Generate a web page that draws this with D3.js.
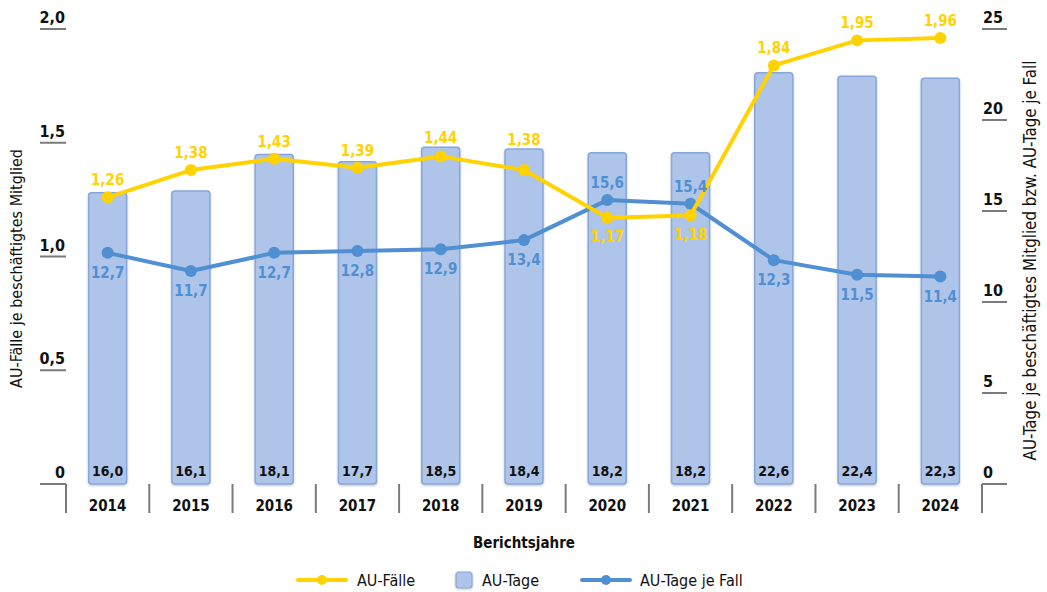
<!DOCTYPE html>
<html>
<head>
<meta charset="utf-8">
<script src="https://cdn.jsdelivr.net/npm/d3@7/dist/d3.min.js"></script>
<style>
  html, body { margin: 0; padding: 0; background: #fff; }
  svg { display: block; font-family: "DejaVu Sans Condensed", "Liberation Sans Narrow", sans-serif; }
</style>
</head>
<body>
<svg id="chart" width="1047" height="592"></svg>
<script>
const years = ["2014","2015","2016","2017","2018","2019","2020","2021","2022","2023","2024"];
const auFaelle = [1.26, 1.38, 1.43, 1.39, 1.44, 1.38, 1.17, 1.18, 1.84, 1.95, 1.96];
const auTage = [16.0, 16.1, 18.1, 17.7, 18.5, 18.4, 18.2, 18.2, 22.6, 22.4, 22.3];
const auTageJeFall = [12.7, 11.7, 12.7, 12.8, 12.9, 13.4, 15.6, 15.4, 12.3, 11.5, 11.4];
const leftTicks = [0, 0.5, 1.0, 1.5, 2.0];
const rightTicks = [0, 5, 10, 15, 20, 25];
// labels drawn under the point (Fälle) / above the point (Tage je Fall)
const faelleBelow = ["2020", "2021"];
const proFallAbove = ["2020", "2021"];

const YELLOW = "#ffd200";
const BLUE = "#4f8fd2";
const BAR_FILL = "#aec4e8";
const BAR_STROKE = "#86a7dc";
const AXIS = "#7b7b7b";

const fmt = (v, d) => v.toFixed(d).replace(".", ",");

const svg = d3.select("#chart");
const plotL = 66, plotR = 982, plotT = 29, plotB = 484;

const x = d3.scaleBand().domain(years).range([plotL, plotR]).paddingInner(0).paddingOuter(0);
const yL = d3.scaleLinear().domain([0, 2]).range([plotB, plotT]);
const yR = d3.scaleLinear().domain([0, 25]).range([plotB, plotT]);

const defs = svg.append("defs");
const f = defs.append("filter").attr("id", "soft").attr("x", "-20%").attr("y", "-20%").attr("width", "140%").attr("height", "140%");
f.append("feGaussianBlur").attr("in", "SourceAlpha").attr("stdDeviation", 1.2).attr("result", "b");
f.append("feOffset").attr("in", "b").attr("dx", 0).attr("dy", 1).attr("result", "o");
f.append("feComponentTransfer").attr("in", "o").attr("result", "o2")
  .append("feFuncA").attr("type", "linear").attr("slope", 0.25);
const m = f.append("feMerge");
m.append("feMergeNode").attr("in", "o2");
m.append("feMergeNode").attr("in", "SourceGraphic");

// bars
const bw = 38;
svg.append("g").selectAll("rect").data(years).join("rect")
  .attr("x", d => x(d) + x.bandwidth() / 2 - bw / 2)
  .attr("y", (d, i) => yR(auTage[i]))
  .attr("width", bw)
  .attr("height", (d, i) => plotB - yR(auTage[i]))
  .attr("rx", 3).attr("ry", 3)
  .attr("fill", BAR_FILL)
  .attr("stroke", BAR_STROKE)
  .attr("stroke-width", 1.5)
  .attr("filter", "url(#soft)");

// bar value labels
svg.append("g").selectAll("text").data(years).join("text")
  .attr("x", d => x(d) + x.bandwidth() / 2)
  .attr("y", 476)
  .attr("text-anchor", "middle")
  .attr("font-size", 14).attr("font-weight", "bold").attr("fill", "#111")
  .text((d, i) => fmt(auTage[i], 1));

// left axis ticks
const gL = svg.append("g");
gL.selectAll("line").data(leftTicks).join("line")
  .attr("x1", 40).attr("x2", plotL)
  .attr("y1", d => yL(d)).attr("y2", d => yL(d))
  .attr("stroke", AXIS).attr("stroke-width", 2);
gL.selectAll("text").data(leftTicks).join("text")
  .attr("x", plotL - 1).attr("y", d => yL(d) - 6)
  .attr("text-anchor", "end")
  .attr("font-size", 16).attr("font-weight", "bold").attr("fill", "#111")
  .text(d => d === 0 ? "0" : fmt(d, 1));

// right axis ticks
const gR = svg.append("g");
gR.selectAll("line").data(rightTicks).join("line")
  .attr("x1", plotR).attr("x2", plotR + 25)
  .attr("y1", d => yR(d)).attr("y2", d => yR(d))
  .attr("stroke", AXIS).attr("stroke-width", 2);
gR.selectAll("text").data(rightTicks).join("text")
  .attr("x", plotR + 1).attr("y", d => yR(d) - 6)
  .attr("text-anchor", "start")
  .attr("font-size", 16).attr("font-weight", "bold").attr("fill", "#111")
  .text(d => d);

// category separators
const seps = x.domain().map(d => x(d)).concat([plotR]);
svg.append("g").selectAll("line").data(seps).join("line")
  .attr("x1", d => d).attr("x2", d => d)
  .attr("y1", plotB).attr("y2", 513)
  .attr("stroke", AXIS).attr("stroke-width", 2);

// year labels
svg.append("g").selectAll("text").data(years).join("text")
  .attr("x", d => x(d) + x.bandwidth() / 2)
  .attr("y", 511)
  .attr("text-anchor", "middle")
  .attr("font-size", 15).attr("font-weight", "bold").attr("fill", "#111")
  .text(d => d);

// lines
const cx = d => x(d) + x.bandwidth() / 2;
const lineF = d3.line().x(d => cx(d.year)).y(d => yL(d.v));
const lineT = d3.line().x(d => cx(d.year)).y(d => yR(d.v));
const fData = years.map((y, i) => ({ year: y, v: auFaelle[i], bar: auTage[i] }));
const tData = years.map((y, i) => ({ year: y, v: auTageJeFall[i] }));

svg.append("path").datum(tData).attr("d", lineT)
  .attr("fill", "none").attr("stroke", BLUE).attr("stroke-width", 4).attr("stroke-linejoin", "round");
svg.append("g").selectAll("circle").data(tData).join("circle")
  .attr("cx", d => cx(d.year)).attr("cy", d => yR(d.v)).attr("r", 6).attr("fill", BLUE);

svg.append("path").datum(fData).attr("d", lineF)
  .attr("fill", "none").attr("stroke", YELLOW).attr("stroke-width", 4).attr("stroke-linejoin", "round");
svg.append("g").selectAll("circle").data(fData).join("circle")
  .attr("cx", d => cx(d.year)).attr("cy", d => yL(d.v)).attr("r", 6).attr("fill", YELLOW);

// line value labels; Fälle labels above the point also clear the bar top
svg.append("g").selectAll("text").data(fData).join("text")
  .attr("x", d => cx(d.year))
  .attr("y", d => faelleBelow.includes(d.year)
    ? yL(d.v) + 24
    : Math.min(yL(d.v) - 12, yR(d.bar) - 4))
  .attr("text-anchor", "middle")
  .attr("font-size", 15).attr("font-weight", "bold").attr("fill", YELLOW)
  .text(d => fmt(d.v, 2));
svg.append("g").selectAll("text").data(tData).join("text")
  .attr("x", d => cx(d.year))
  .attr("y", d => proFallAbove.includes(d.year) ? yR(d.v) - 12 : yR(d.v) + 25)
  .attr("text-anchor", "middle")
  .attr("font-size", 15).attr("font-weight", "bold").attr("fill", BLUE)
  .text(d => fmt(d.v, 1));

// axis titles
svg.append("text")
  .attr("transform", `translate(22,${(plotT + plotB) / 2 + 12}) rotate(-90)`)
  .attr("text-anchor", "middle").attr("font-size", 16).attr("fill", "#111")
  .text("AU-Fälle je beschäftigtes Mitglied");
svg.append("text")
  .attr("transform", `translate(1036,${(plotT + plotB) / 2 + 4}) rotate(-90)`)
  .attr("text-anchor", "middle").attr("font-size", 16.8).attr("fill", "#111")
  .text("AU-Tage je beschäftigtes Mitglied bzw. AU-Tage je Fall");
svg.append("text")
  .attr("x", 524).attr("y", 548)
  .attr("text-anchor", "middle").attr("font-size", 15).attr("font-weight", "bold").attr("fill", "#111")
  .text("Berichtsjahre");

// legend
const lg = svg.append("g");
const ly = 580;
lg.append("line").attr("x1", 298).attr("x2", 346).attr("y1", ly).attr("y2", ly)
  .attr("stroke", YELLOW).attr("stroke-width", 4).attr("stroke-linecap", "round");
lg.append("circle").attr("cx", 322).attr("cy", ly).attr("r", 5).attr("fill", YELLOW);
lg.append("text").attr("x", 357).attr("y", ly + 6).attr("font-size", 16).attr("fill", "#111").text("AU-Fälle");
lg.append("rect").attr("x", 456).attr("y", ly - 8).attr("width", 16).attr("height", 16).attr("rx", 3)
  .attr("fill", BAR_FILL).attr("stroke", BAR_STROKE).attr("stroke-width", 1.2).attr("filter", "url(#soft)");
lg.append("text").attr("x", 482).attr("y", ly + 6).attr("font-size", 16).attr("fill", "#111").text("AU-Tage");
lg.append("line").attr("x1", 582).attr("x2", 630).attr("y1", ly).attr("y2", ly)
  .attr("stroke", BLUE).attr("stroke-width", 4).attr("stroke-linecap", "round");
lg.append("circle").attr("cx", 606).attr("cy", ly).attr("r", 5).attr("fill", BLUE);
lg.append("text").attr("x", 640).attr("y", ly + 6).attr("font-size", 16).attr("fill", "#111").text("AU-Tage je Fall");
</script>
</body>
</html>
